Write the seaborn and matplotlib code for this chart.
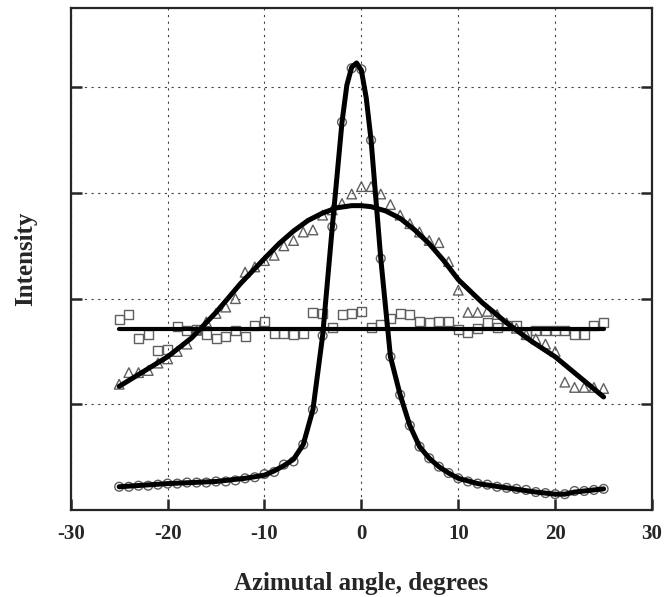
import numpy as np
import pandas as pd
import matplotlib
matplotlib.use("Agg")
import matplotlib.pyplot as plt
import seaborn as sns

# measured points, one per degree from -25 to 25
angle = list(range(-25, 26))

circles = [0.22, 0.22, 0.23, 0.23, 0.24, 0.25, 0.25, 0.26, 0.26, 0.26,
           0.27, 0.27, 0.28, 0.30, 0.31, 0.34, 0.36, 0.43, 0.46, 0.62,
           0.95, 1.65, 2.68, 3.67, 4.18, 4.17, 3.50, 2.38, 1.45, 1.09,
           0.80, 0.60, 0.49, 0.41, 0.35, 0.30, 0.27, 0.25, 0.24, 0.22,
           0.21, 0.20, 0.19, 0.17, 0.16, 0.15, 0.15, 0.18, 0.18, 0.19,
           0.20]

triangles = [1.19, 1.30, 1.30, 1.32, 1.39, 1.43, 1.50, 1.57, 1.70, 1.78,
             1.86, 1.92, 2.00, 2.25, 2.30, 2.36, 2.41, 2.50, 2.55, 2.63,
             2.65, 2.79, 2.84, 2.90, 2.99, 3.06, 3.06, 2.99, 2.89, 2.79,
             2.71, 2.63, 2.55, 2.53, 2.35, 2.08, 1.87, 1.87, 1.88, 1.85,
             1.77, 1.72, 1.66, 1.62, 1.57, 1.50, 1.21, 1.16, 1.16, 1.16,
             1.15]

squares = [1.80, 1.85, 1.62, 1.66, 1.51, 1.52, 1.74, 1.70, 1.71, 1.66,
           1.62, 1.64, 1.70, 1.64, 1.75, 1.78, 1.67, 1.67, 1.66, 1.67,
           1.87, 1.86, 1.73, 1.85, 1.86, 1.88, 1.73, 1.76, 1.81, 1.86,
           1.85, 1.78, 1.77, 1.78, 1.78, 1.71, 1.68, 1.72, 1.77, 1.73,
           1.75, 1.75, 1.66, 1.70, 1.70, 1.70, 1.70, 1.66, 1.66, 1.75,
           1.77]

# fitted curves
narrow_fit_x = [-25, -20, -15, -12, -10, -9, -8, -7, -6, -5, -4, -3, -2, -1.5, -1,
                -0.5, 0, 0.5, 1, 2, 3, 4, 5, 6, 7, 8, 9, 10, 12, 15, 18, 20, 21,
                22, 25]
narrow_fit_y = [0.22, 0.25, 0.27, 0.30, 0.33, 0.37, 0.42, 0.48, 0.62, 0.95, 1.65,
                2.68, 3.67, 4.02, 4.19, 4.23, 4.16, 3.90, 3.50, 2.38, 1.45, 1.09,
                0.80, 0.60, 0.49, 0.41, 0.35, 0.30, 0.25, 0.21, 0.17, 0.15, 0.15,
                0.17, 0.20]

broad_fit_x = [-25, -22.5, -20, -17.5, -15, -12.5, -10, -8.5, -7, -5.5, -4, -2.5,
               -1, 0, 1, 2.5, 4, 5.5, 7, 8.5, 10, 12.5, 15, 17.5, 20, 22.5, 25]
broad_fit_y = [1.17, 1.31, 1.45, 1.63, 1.87, 2.14, 2.38, 2.52, 2.64, 2.74, 2.81,
               2.86, 2.88, 2.88, 2.87, 2.83, 2.76, 2.65, 2.52, 2.36, 2.18, 1.96,
               1.77, 1.60, 1.45, 1.26, 1.07]

flat_fit_x = [-25, 25]
flat_fit_y = [1.71, 1.71]

sns.set_style("ticks")
plt.rcParams["font.family"] = ["Liberation Serif", "DejaVu Serif"]
plt.rcParams["font.weight"] = "bold"
plt.rcParams["axes.unicode_minus"] = False

fig = plt.figure(figsize=(6.64, 5.97), dpi=100)
ax = fig.add_axes([0.1065, 0.1457, 0.8755, 0.8409])

edge = "#606060"
sns.scatterplot(x=angle, y=squares, marker="s", s=42, facecolor="none",
                edgecolor=edge, linewidth=1, ax=ax, zorder=2)
sns.scatterplot(x=angle, y=triangles, marker="^", s=48, facecolor="none",
                edgecolor=edge, linewidth=1, ax=ax, zorder=2)
sns.scatterplot(x=angle, y=circles, marker="o", s=40, facecolor="none",
                edgecolor=edge, linewidth=1, ax=ax, zorder=2)

sns.lineplot(x=flat_fit_x, y=flat_fit_y, color="black", linewidth=3.0, ax=ax, zorder=3)
sns.lineplot(x=broad_fit_x, y=broad_fit_y, color="black", linewidth=3.6, ax=ax, zorder=3)
sns.lineplot(x=narrow_fit_x, y=narrow_fit_y, color="black", linewidth=3.6, ax=ax, zorder=3)

ax.set_xlim(-30, 30)
ax.set_ylim(0, 4.75)
ax.set_xticks([-30, -20, -10, 0, 10, 20, 30])
ax.set_yticks([1, 2, 3, 4])
ax.set_yticklabels([])
ax.grid(True, color="#444444", linestyle=(0, (2, 4)), linewidth=0.8)
ax.tick_params(axis="x", direction="in", length=8, width=1.8, labelsize=15, pad=10)
ax.tick_params(axis="y", direction="in", length=8, width=1.8, right=True)
for lab in ax.get_xticklabels():
    lab.set_fontweight("bold")
for sp in ax.spines.values():
    sp.set_linewidth(1.6)
    sp.set_visible(True)

ax.set_xlabel("Azimutal angle, degrees", fontsize=18, fontweight="bold", labelpad=20)
ax.set_ylabel("Intensity", fontsize=18, fontweight="bold", labelpad=21)

fig.savefig("out.png", dpi=100)
